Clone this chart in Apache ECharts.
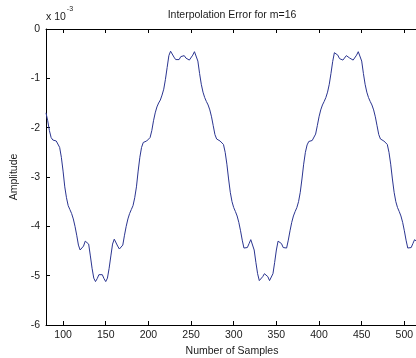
<!DOCTYPE html>
<html>
<head>
<meta charset="utf-8">
<title>Interpolation Error for m=16</title>
<script src="https://cdn.jsdelivr.net/npm/echarts@6.0.0/dist/echarts.min.js"></script>
<style>
  html, body { margin: 0; padding: 0; background: #fff; }
  #chart { width: 416px; height: 358px; }
</style>
</head>
<body>
<div id="chart"></div>
<script>
// sample axis: first sample and spacing of the read-off values
const firstSample = 80
const sampleStep = 2

// error amplitude (x 10^-3), every 2 samples, 80..514
const errorValues = [
  -1.70, -1.86, -2.06, -2.20, -2.25, -2.27, -2.27, -2.30, -2.40, -2.60,
  -2.88, -3.20, -3.42, -3.58, -3.66, -3.74, -3.85, -4.00, -4.18, -4.38,
  -4.48, -4.46, -4.40, -4.30, -4.26, -4.36, -4.60, -4.85, -5.05, -5.12,
  -5.06, -4.98, -4.95,
  -4.98, -5.06, -5.12, -5.05, -4.85, -4.60, -4.36, -4.26, -4.30, -4.40,
  -4.46, -4.48, -4.38, -4.18, -4.00, -3.85, -3.74, -3.66, -3.58, -3.42,
  -3.20, -2.88, -2.60, -2.40, -2.30, -2.27, -2.27, -2.25, -2.20, -2.06,
  -1.86, -1.70, -1.58, -1.50, -1.44, -1.34, -1.22, -1.02, -0.78, -0.54,
  -0.45, -0.49, -0.57, -0.62, -0.63, -0.62, -0.56, -0.53,
  -0.54, -0.59, -0.63, -0.63, -0.60, -0.53, -0.46, -0.48, -0.65, -0.90,
  -1.12, -1.28, -1.39, -1.47, -1.54, -1.64, -1.78, -1.96, -2.14, -2.23,
  -2.26, -2.27, -2.28, -2.34,
  -2.50, -2.74, -3.04, -3.31, -3.50, -3.62, -3.70, -3.79, -3.92, -4.09,
  -4.28, -4.44, -4.47, -4.43, -4.35, -4.27, -4.30, -4.48, -4.73, -4.96,
  -5.10, -5.10, -5.02, -4.96,
  -4.96, -5.02, -5.10, -5.10, -4.96, -4.73, -4.48, -4.30, -4.27, -4.35,
  -4.43, -4.47, -4.44, -4.28, -4.09, -3.92, -3.79, -3.70, -3.62, -3.50,
  -3.31, -3.04, -2.74, -2.50, -2.35, -2.28, -2.27, -2.26, -2.23, -2.13,
  -1.96, -1.78, -1.64, -1.54, -1.47, -1.39, -1.28, -1.12, -0.90, -0.66,
  -0.48, -0.46, -0.53, -0.60, -0.63, -0.63, -0.59, -0.54,
  -0.54, -0.59, -0.63, -0.63, -0.60, -0.53, -0.46, -0.48, -0.65, -0.90,
  -1.12, -1.28, -1.39, -1.47, -1.54, -1.64, -1.78, -1.96, -2.14, -2.23,
  -2.26, -2.27, -2.28, -2.34,
  -2.50, -2.74, -3.04, -3.31, -3.50, -3.62, -3.70, -3.79, -3.92, -4.09,
  -4.28, -4.44, -4.47, -4.43, -4.35, -4.27, -4.30
]

const xTicks = [100, 150, 200, 250, 300, 350, 400, 450, 500]
const yTicks = [0, -1, -2, -3, -4, -5, -6]

const font = 'Liberation Sans, Arial, Helvetica, sans-serif'
const ink = '#1a1a1a'

const points = errorValues.map((v, i) => [firstSample + i * sampleStep, v])

const chart = echarts.init(document.getElementById('chart'))

const frameAxis = {
  type: 'value',
  min: 80,
  max: 516,
  splitLine: { show: false },
  axisLine: { show: true, onZero: false, lineStyle: { color: '#000', width: 1 } },
  axisTick: { show: true, inside: true, length: 4, customValues: xTicks, lineStyle: { color: '#000' } }
}

chart.setOption({
  animation: false,
  backgroundColor: '#fff',
  textStyle: { fontFamily: font },
  title: [
    {
      text: 'Interpolation Error for m=16',
      left: 232,
      top: 10,
      padding: 0,
      textAlign: 'center',
      textStyle: { fontSize: 10.5, fontWeight: 'normal', color: ink, fontFamily: font }
    },
    {
      text: '{a|x 10}{b|-3}',
      left: 46,
      top: 6,
      padding: 0,
      textStyle: {
        fontFamily: font,
        fontWeight: 'normal',
        rich: {
          a: { fontSize: 10.5, fontWeight: 'normal', color: ink, fontFamily: font, padding: [6, 0, 0, 0] },
          b: { fontSize: 7, fontWeight: 'normal', color: ink, fontFamily: font, verticalAlign: 'top', padding: [0, 0, 0, 1] }
        }
      }
    }
  ],
  grid: { left: 46, top: 29, right: -2, bottom: 33, outerBoundsMode: 'none' },
  xAxis: [
    Object.assign({}, frameAxis, {
      position: 'bottom',
      name: 'Number of Samples',
      nameLocation: 'middle',
      nameGap: 18,
      nameTextStyle: { fontSize: 10.5, color: ink, fontFamily: font },
      axisLabel: { customValues: xTicks, fontSize: 10.5, color: ink, margin: 5, fontFamily: font }
    }),
    Object.assign({}, frameAxis, {
      position: 'top',
      axisLabel: { show: false }
    })
  ],
  yAxis: {
    type: 'value',
    min: -6,
    max: 0,
    interval: 1,
    name: 'Amplitude',
    nameLocation: 'middle',
    nameGap: 21,
    nameTextStyle: { fontSize: 10.5, color: ink, fontFamily: font },
    splitLine: { show: false },
    axisLine: { show: true, onZero: false, lineStyle: { color: '#000', width: 1 } },
    axisTick: { show: true, inside: true, length: 4, customValues: yTicks, lineStyle: { color: '#000' } },
    axisLabel: { customValues: yTicks, fontSize: 10.5, color: ink, margin: 6, fontFamily: font }
  },
  series: [
    {
      type: 'line',
      data: points,
      showSymbol: false,
      clip: true,
      lineStyle: { color: '#2b3590', width: 1 }
    }
  ]
})
</script>
</body>
</html>
